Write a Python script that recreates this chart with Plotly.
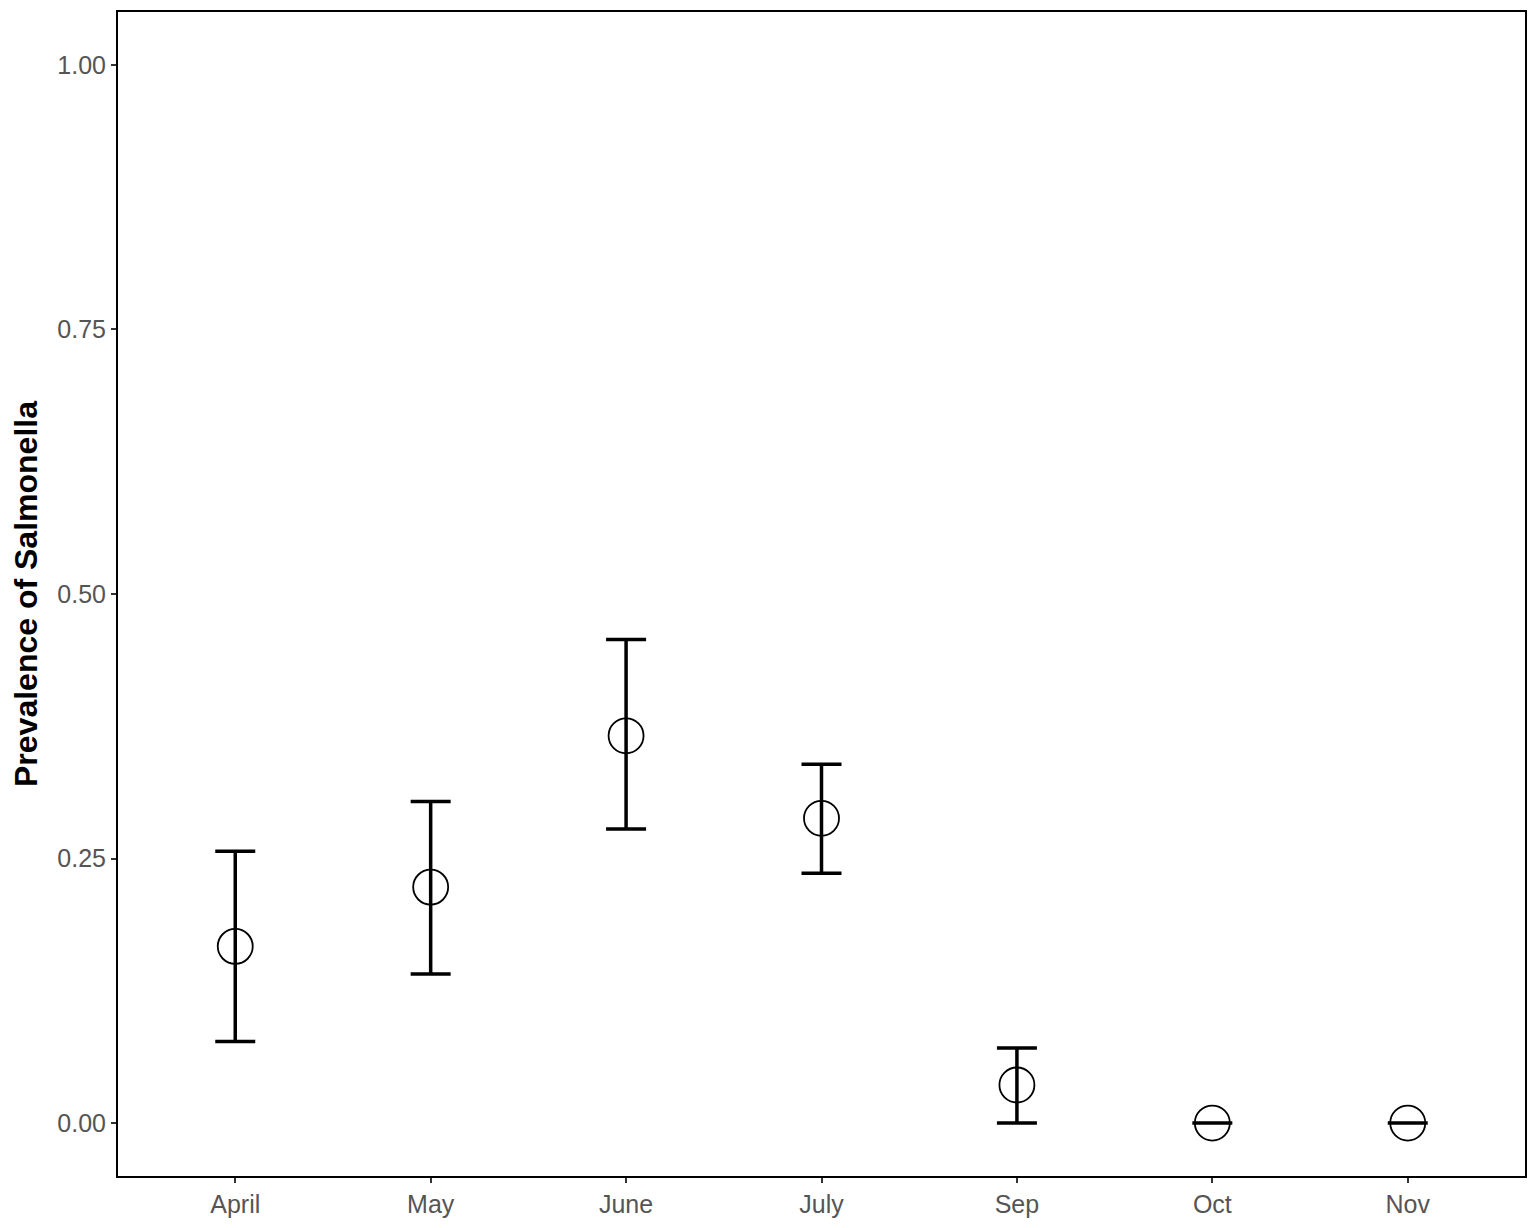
import plotly.graph_objects as go

# datos
meses = ["April", "May", "June", "July", "Sep", "Oct", "Nov"]
prevalencia = [0.167, 0.223, 0.366, 0.288, 0.036, 0.0, 0.0]
limite_sup = [0.257, 0.304, 0.457, 0.339, 0.071, 0.0, 0.0]
limite_inf = [0.077, 0.141, 0.278, 0.236, 0.0, 0.0, 0.0]

x = list(range(1, len(meses) + 1))
err_plus = [s - p for s, p in zip(limite_sup, prevalencia)]
err_minus = [p - i for p, i in zip(prevalencia, limite_inf)]

fig = go.Figure()
fig.add_trace(go.Scatter(
    x=x, y=prevalencia, mode="markers",
    marker=dict(symbol="circle-open", size=35, color="black", line=dict(width=1.8)),
    error_y=dict(type="data", symmetric=False, array=err_plus, arrayminus=err_minus,
                 color="black", thickness=3.5, width=20),
    showlegend=False,
))

fig.update_layout(
    width=1535, height=1228,
    margin=dict(l=118, r=8, t=12, b=52),
    plot_bgcolor="white", paper_bgcolor="white",
    font=dict(family="Liberation Sans, Arial, sans-serif"),
)
fig.update_xaxes(
    range=[0.4, 7.6], tickvals=x, ticktext=meses,
    showgrid=False, zeroline=False,
    showline=True, linecolor="black", linewidth=2, mirror=True,
    ticks="outside", ticklen=5, tickwidth=2, tickcolor="#333333",
    tickfont=dict(size=25, color="#555555"),
)
fig.update_yaxes(
    range=[-0.05, 1.05], tickvals=[0, 0.25, 0.5, 0.75, 1.0],
    ticktext=["0.00", "0.25", "0.50", "0.75", "1.00"],
    showgrid=False, zeroline=False,
    showline=True, linecolor="black", linewidth=2, mirror=True,
    ticks="outside", ticklen=5, tickwidth=2, tickcolor="#333333",
    tickfont=dict(size=25, color="#555555"),
    title=dict(text="<b>Prevalence of Salmonella</b>", font=dict(size=32, color="black"), standoff=10),
)

fig.write_html("out.html", config={"displayModeBar": False},
               post_script="document.body.style.margin='0';document.body.style.overflow='hidden';")
